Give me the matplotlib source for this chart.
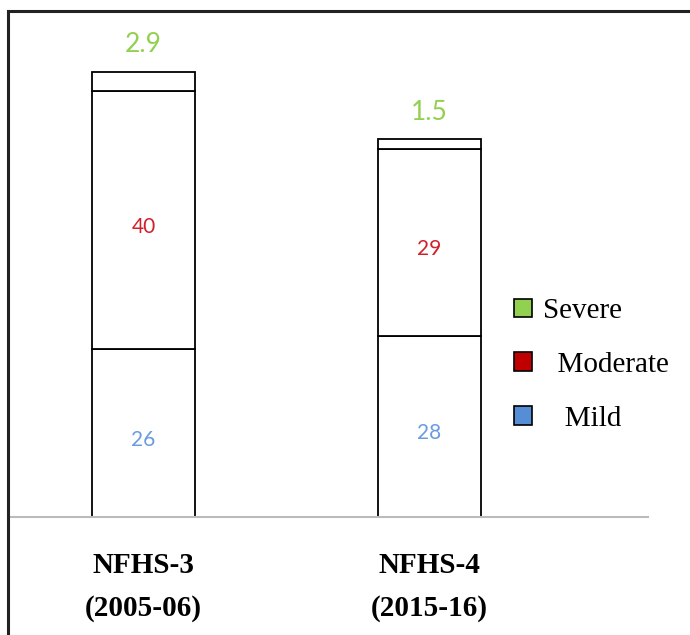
import matplotlib.pyplot as plt
from matplotlib.patches import Patch, Rectangle

# -----------------------------
# Data
surveys = ["NFHS-3\n(2005-06)", "NFHS-4\n(2015-16)"]
mild = [26, 28]
moderate = [40, 29]
severe = [2.9, 1.5]

legend_labels = ["Severe", "  Moderate", "   Mild"]
legend_colors = ["#92D050", "#C00000", "#558ED5"]
text_colors = {"mild": "#6A9BE0", "moderate": "#D0202A", "severe": "#92D050"}

# -----------------------------
fig = plt.figure(figsize=(6.9, 6.35), dpi=100)
ax = fig.add_axes([8 / 690, 1 - 517 / 635, 640 / 690, 497 / 635])

x = [0, 1]
w = 0.36
bot2 = [a + b for a, b in zip(mild, moderate)]

ax.bar(x, mild, width=w, color="white", edgecolor="black", linewidth=1.3)
ax.bar(x, moderate, width=w, bottom=mild, color="white", edgecolor="black", linewidth=1.3)
ax.bar(x, severe, width=w, bottom=bot2, color="white", edgecolor="black", linewidth=1.3)

# data labels
lab_font = ["Lato", "DejaVu Sans"]
for i in x:
    ax.text(i, mild[i] / 2 - 1, str(mild[i]), ha="center", va="center",
            color=text_colors["mild"], fontsize=15, family=lab_font)
    ax.text(i, mild[i] + moderate[i] / 2 - 1, str(moderate[i]), ha="center", va="center",
            color=text_colors["moderate"], fontsize=15, family=lab_font)
    ax.text(i, bot2[i] + severe[i] + 2.3, str(severe[i]), ha="center", va="bottom",
            color=text_colors["severe"], fontsize=19, family=lab_font)

ax.set_xlim(-0.474, 1.764)
ax.set_ylim(0, 77)
ax.set_xticks(x)
ax.set_xticklabels(surveys, fontsize=21, fontweight="bold", family="Liberation Serif",
                   linespacing=1.75)
ax.tick_params(axis="x", length=0, pad=25)
ax.set_yticks([])
for s in ["top", "right", "left"]:
    ax.spines[s].set_visible(False)
ax.spines["bottom"].set_color("#BBBBBB")
ax.spines["bottom"].set_linewidth(1.5)

# legend
handles = [Patch(facecolor=c, edgecolor="black", linewidth=1.2) for c in legend_colors]
leg = fig.legend(handles, legend_labels, loc="upper left",
                 bbox_to_anchor=(488 / 690, 1 - 272 / 635), frameon=False,
                 prop={"family": "Liberation Serif", "size": 21},
                 handlelength=0.6, handleheight=0.6, handletextpad=0.4,
                 labelspacing=0.95)

# outer frame
fig.add_artist(Rectangle((8 / 690, -0.1), 1.2, 1.1 - 11 / 635, transform=fig.transFigure,
                         fill=False, edgecolor="#222222", linewidth=2.2))

plt.savefig("out.png", dpi=100)
